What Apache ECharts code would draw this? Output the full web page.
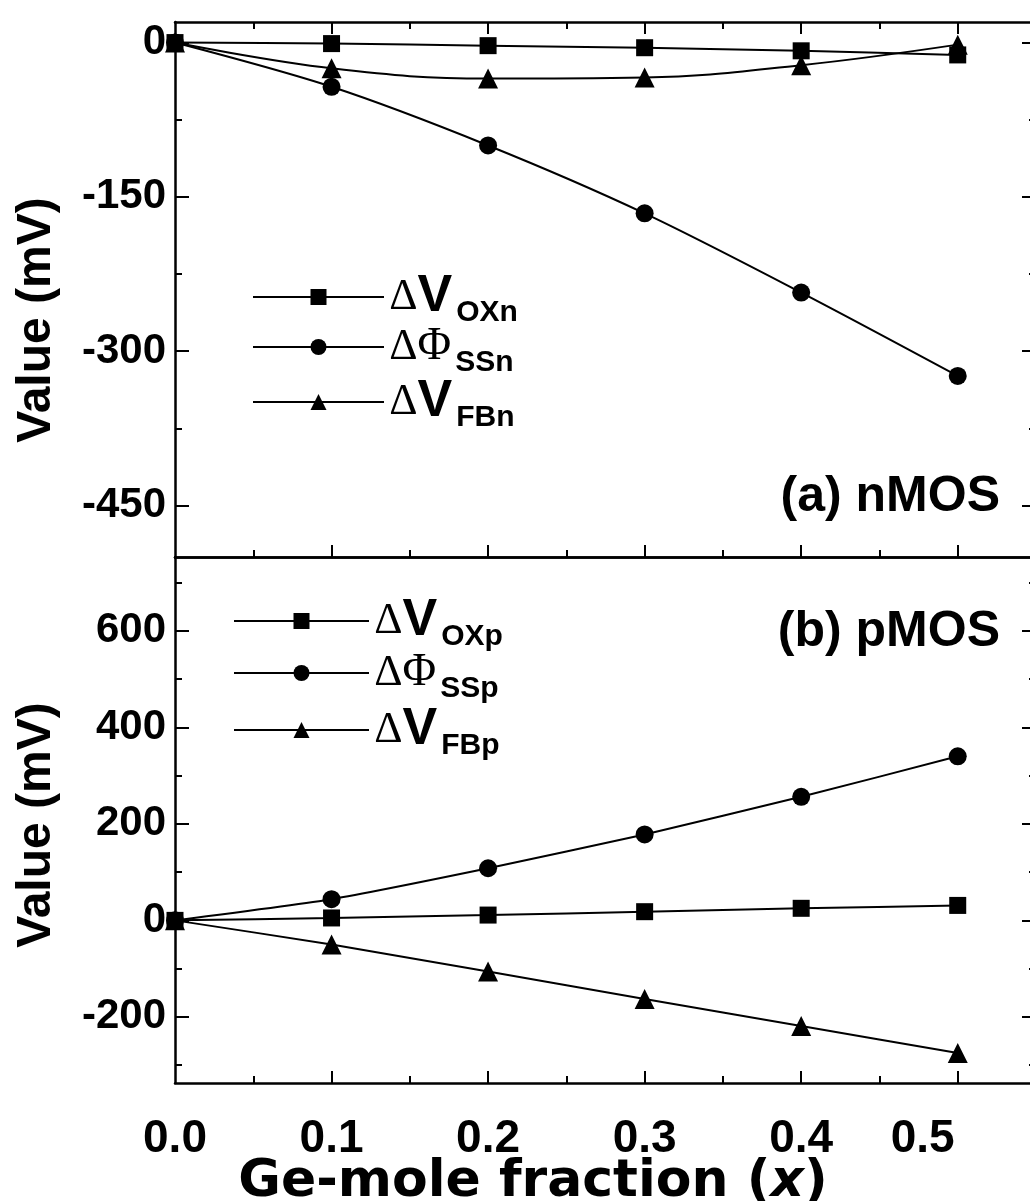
<!DOCTYPE html>
<html>
<head>
<meta charset="utf-8">
<script src="https://cdn.jsdelivr.net/npm/echarts@6/dist/echarts.min.js"></script>
<style>
  html, body { margin: 0; padding: 0; background: #fff; }
  #chart { width: 1030px; height: 1201px; }
</style>
</head>
<body>
<div id="chart"></div>
<script>
// Ge-mole fraction
const xValues = [0, 0.1, 0.2, 0.3, 0.4, 0.5]

// (a) nMOS, mV
const vOxN = [0, -1, -3, -5, -8, -12]
const phiSsN = [0, -43, -100, -166, -243, -324]
const vFbN = [0, -25, -35, -34, -22, -2]

// (b) pMOS, mV
const vOxP = [0, 5, 11, 18, 25, 31]
const phiSsP = [0, 44, 108, 178, 256, 340]
const vFbP = [0, -50, -106, -163, -219, -275]

const xTicks = [0, 0.1, 0.2, 0.3, 0.4, 0.5]
const xMinor = [0.05, 0.15, 0.25, 0.35, 0.45]
const yTicksN = [0, -150, -300, -450]
const yMinorN = [-75, -225, -375]
const yTicksP = [-200, 0, 200, 400, 600]
const yMinorP = [-300, -100, 100, 300, 500, 700]

const FONT = 'Liberation Sans'
const SERIF = 'Liberation Serif'

const pairs = (ys) => xValues.map((x, i) => [x, ys[i]])

const chart = echarts.init(document.getElementById('chart'))

// axis helpers: one axis carries the line + major ticks (+labels), a twin carries the short minor ticks
function xAx (grid, pos, ticks, opts) {
  opts = opts || {}
  return {
    type: 'value', gridIndex: grid, position: pos, min: 0, max: 0.55,
    axisLine: { show: !!opts.line, onZero: false, lineStyle: { color: '#000', width: 2.5 } },
    axisTick: { show: ticks.length > 0, inside: true, length: opts.len || 12, customValues: ticks, lineStyle: { color: '#000', width: 2 } },
    axisLabel: opts.labels ? {
      customValues: xTicks, fontFamily: FONT, fontWeight: 'bold', fontSize: 46, color: '#000', margin: 33,
      // the last label sits a little left of its tick in the figure
      formatter: v => Math.abs(v - 0.5) < 1e-9 ? '{r|0.5}' : v.toFixed(1),
      rich: { r: { fontFamily: FONT, fontWeight: 'bold', fontSize: 46, color: '#000', padding: [0, 70, 0, 0] } }
    } : { show: false },
    splitLine: { show: false }
  }
}

function yAx (grid, pos, min, max, ticks, opts) {
  opts = opts || {}
  return {
    type: 'value', gridIndex: grid, position: pos, min, max,
    axisLine: { show: !!opts.line, onZero: false, lineStyle: { color: '#000', width: 2.5 } },
    axisTick: { show: true, inside: true, length: opts.len || 14, customValues: ticks, lineStyle: { color: '#000', width: 2 } },
    axisLabel: opts.labels ? {
      customValues: opts.labels, fontFamily: FONT, fontWeight: 'bold', fontSize: 42, color: '#000', margin: 9
    } : { show: false },
    splitLine: { show: false }
  }
}

// h is an empty spacer that sets the line height, so the subscript (bottom) drops below the V (middle)
const legendRich = {
  h: { fontSize: 1, lineHeight: 62, verticalAlign: 'middle' },
  d: { fontFamily: SERIF, fontSize: 44, color: '#000', lineHeight: 40, verticalAlign: 'middle' },
  f: { fontFamily: SERIF, fontSize: 46, color: '#000', lineHeight: 40, verticalAlign: 'middle' },
  v: { fontFamily: FONT, fontWeight: 'bold', fontSize: 52, color: '#000', lineHeight: 40, verticalAlign: 'middle' },
  s: { fontFamily: FONT, fontWeight: 'bold', fontSize: 30, color: '#000', lineHeight: 26, verticalAlign: 'bottom', padding: [0, 0, 0, 4] }
}

const legendText = {
  VOXn: '{h| }{d|Δ}{v|V}{s|OXn}',
  PhiSSn: '{h| }{d|Δ}{f|Φ}{s|SSn}',
  VFBn: '{h| }{d|Δ}{v|V}{s|FBn}',
  VOXp: '{h| }{d|Δ}{v|V}{s|OXp}',
  PhiSSp: '{h| }{d|Δ}{f|Φ}{s|SSp}',
  VFBp: '{h| }{d|Δ}{v|V}{s|FBp}'
}

// one legend per entry so each row can sit where it does in the figure
function legendRow (name, left, centerY, width) {
  return {
    data: [name], left, top: centerY - 31,
    itemWidth: width, itemHeight: 20,
    formatter: n => legendText[n],
    textStyle: { rich: legendRich },
    selectedMode: false
  }
}

function lineSeries (name, x, y, data, symbol, size, smooth) {
  return {
    name, type: 'line', xAxisIndex: x, yAxisIndex: y, data,
    symbol, symbolSize: size, smooth,
    lineStyle: { color: '#000', width: 2 },
    itemStyle: { color: '#000' },
    z: 5
  }
}

const titleFont = 'bold 48px "Liberation Sans"'

chart.setOption({
  animation: false,
  backgroundColor: '#fff',
  grid: [
    { left: 175, right: -6, top: 22, height: 535, outerBoundsMode: 'none' },
    { left: 175, right: -6, top: 557, height: 526, outerBoundsMode: 'none' }
  ],
  xAxis: [
    xAx(0, 'bottom', xTicks.slice(1), { line: true }),
    xAx(0, 'bottom', xMinor, { len: 7 }),
    xAx(0, 'top', xTicks.slice(1), { line: true }),
    xAx(0, 'top', xMinor, { len: 7 }),
    xAx(1, 'bottom', xTicks.slice(1), { line: true, labels: true }),
    xAx(1, 'bottom', xMinor, { len: 7 }),
    xAx(1, 'top', [], { line: true })
  ],
  yAxis: [
    yAx(0, 'left', -500, 20, yTicksN, { line: true, labels: yTicksN }),
    yAx(0, 'left', -500, 20, yMinorN, { len: 7 }),
    yAx(0, 'right', -500, 20, yTicksN, { line: true }),
    yAx(0, 'right', -500, 20, yMinorN, { len: 7 }),
    yAx(1, 'left', -337, 753, yTicksP, { line: true, labels: yTicksP }),
    yAx(1, 'left', -337, 753, yMinorP, { len: 7 }),
    yAx(1, 'right', -337, 753, yTicksP, { line: true }),
    yAx(1, 'right', -337, 753, yMinorP, { len: 7 })
  ],
  legend: [
    legendRow('VOXn', 247, 297, 131),
    legendRow('PhiSSn', 247, 350, 131),
    legendRow('VFBn', 247, 402, 131),
    legendRow('VOXp', 228, 621, 135),
    legendRow('PhiSSp', 228, 676, 135),
    legendRow('VFBp', 228, 730, 135)
  ],
  graphic: [
    { type: 'text', x: 37, y: 320, rotation: Math.PI / 2, style: { text: 'Value (mV)', font: titleFont, fill: '#000', align: 'center', verticalAlign: 'middle' } },
    { type: 'text', x: 37, y: 825, rotation: Math.PI / 2, style: { text: 'Value (mV)', font: titleFont, fill: '#000', align: 'center', verticalAlign: 'middle' } },
    {
      type: 'text', x: 533, y: 1182,
      style: {
        text: 'Ge-mole fraction ({i|x})', font: 'bold 52px "DejaVu Sans"', fill: '#000', align: 'center', verticalAlign: 'middle',
        rich: { i: { fontFamily: 'DejaVu Sans', fontWeight: 'bold', fontStyle: 'italic', fontSize: 52, fill: '#000' } }
      }
    },
    { type: 'text', x: 1000, y: 497, style: { text: '(a) nMOS', font: 'bold 50px "Liberation Sans"', fill: '#000', align: 'right', verticalAlign: 'middle' } },
    { type: 'text', x: 1000, y: 632, style: { text: '(b) pMOS', font: 'bold 50px "Liberation Sans"', fill: '#000', align: 'right', verticalAlign: 'middle' } }
  ],
  series: [
    lineSeries('VOXn', 0, 0, pairs(vOxN), 'rect', 17, 0.3),
    lineSeries('PhiSSn', 0, 0, pairs(phiSsN), 'circle', 18, 0.3),
    lineSeries('VFBn', 0, 0, pairs(vFbN), 'triangle', 20, 0.4),
    lineSeries('VOXp', 4, 4, pairs(vOxP), 'rect', 17, 0.15),
    lineSeries('PhiSSp', 4, 4, pairs(phiSsP), 'circle', 18, 0.15),
    lineSeries('VFBp', 4, 4, pairs(vFbP), 'triangle', 20, 0.15)
  ]
})
</script>
</body>
</html>
